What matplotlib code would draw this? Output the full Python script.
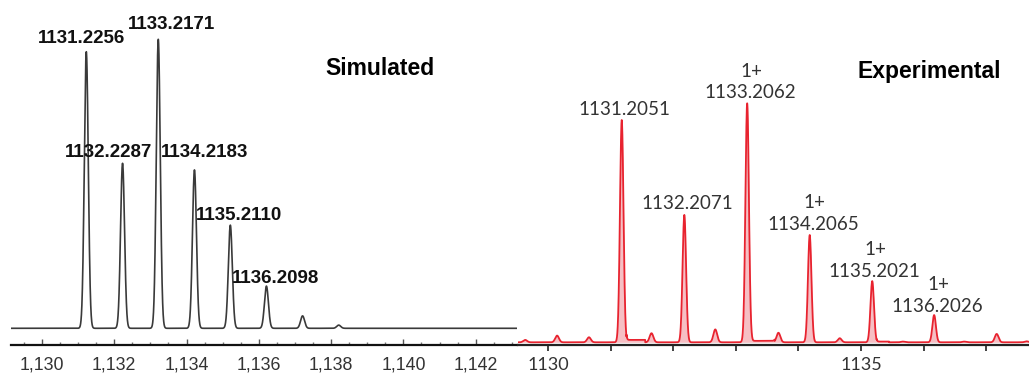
import numpy as np
import matplotlib
matplotlib.use("Agg")
import matplotlib.pyplot as plt
from matplotlib.ticker import MultipleLocator, FuncFormatter

# ---------------- data ----------------
# Simulated isotope pattern (left panel)
sim_mz = [1131.2256, 1132.2287, 1133.2171, 1134.2183, 1135.2110, 1136.2098, 1137.21, 1138.21]
sim_int = [95.7, 57.1, 100.0, 54.8, 35.7, 14.6, 4.3, 1.1]
sim_labels = ["1131.2256", "1132.2287", "1133.2171", "1134.2183", "1135.2110", "1136.2098"]
sim_label_x = [1131.08, 1131.85, 1133.57, 1134.51, 1135.45, 1136.45]
sim_label_y = [98.7, 59.4, 103.4, 59.4, 37.5, 15.7]

# Experimental spectrum (right panel)
exp_mz = [1131.174, 1132.175, 1133.18, 1134.18, 1135.18, 1136.17]
exp_int = [93.0, 53.3, 100.0, 44.9, 25.6, 11.4]
exp_minor_mz = [1129.63, 1130.14, 1130.65, 1131.65, 1132.67, 1133.68, 1134.66,
                1135.67, 1136.65, 1137.17, 1137.65]
exp_minor_int = [1.0, 2.8, 2.1, 3.8, 5.4, 4.0, 1.7, 0.3, 0.3, 3.5, 0.4]
exp_shelf_start = [1131.25, 1133.22, 1135.25]
exp_shelf_end = [1131.55, 1133.62, 1135.45]
exp_shelf_level = [1.0, 0.6, 0.3]
exp_labels = ["1131.2051", "1132.2071", "1133.2062", "1134.2065", "1135.2021", "1136.2026"]
exp_charge = ["", "", "1+", "1+", "1+", "1+"]
exp_label_x = [1131.222, 1132.226, 1133.23, 1134.238, 1135.209, 1136.216]
exp_label_y = [95.1, 55.6, 102.1, 47.0, 27.4, 12.8]

sim_xlim = (1129.142, 1143.135)
exp_xlim = (1129.515, 1137.687)

# ---------------- figure ----------------
W, H = 1029, 374
fig = plt.figure(figsize=(W / 100, H / 100), dpi=100)

def px_axes(left, right, top, bottom):
    return fig.add_axes([left / W, 1 - bottom / H, (right - left) / W, (bottom - top) / H])

# ---- left: simulated ----
axL = px_axes(11, 516.7, 0, 345)
x = np.linspace(sim_xlim[0], sim_xlim[1], 8000)
y = np.zeros_like(x)
for c, h in zip(sim_mz, sim_int):
    y += h * np.exp(-0.5 * ((x - c) / 0.055) ** 2)
axL.plot(x, y, color="#3a3a3a", lw=1.2)
axL.set_xlim(*sim_xlim)
axL.set_ylim(-16.7 / 2.89, 328.3 / 2.89)
for s in ["top", "left", "right"]:
    axL.spines[s].set_visible(False)
axL.spines["bottom"].set_linewidth(1.6)
axL.spines["bottom"].set_color("#111111")
axL.set_yticks([])
axL.xaxis.set_major_locator(MultipleLocator(2))
axL.xaxis.set_minor_locator(MultipleLocator(0.5))
axL.xaxis.set_major_formatter(FuncFormatter(lambda v, p: f"{int(round(v)):,}"))
axL.tick_params(axis="x", which="major", direction="in", length=4, width=1.0,
                colors="#555555", labelcolor="#333333", labelsize=12.8, pad=8)
axL.tick_params(axis="x", which="minor", direction="in", length=2.5, width=1.0, colors="#777777")
for lab in axL.get_xticklabels():
    lab.set_fontfamily("Liberation Sans")

for t, lx, ly in zip(sim_labels, sim_label_x, sim_label_y):
    axL.text(lx, ly, t, ha="center", va="baseline", fontsize=13.5, fontweight="bold",
             family="Liberation Sans", color="#111111")
axL.text(1139.35, 87.6, "Simulated", ha="center", va="baseline", fontsize=16.5,
         fontweight="bold", family="Liberation Sans", color="black")

# ---- right: experimental ----
axR = px_axes(518, 1029, 0, 345)
xe = np.linspace(exp_xlim[0], exp_xlim[1], 8000)
ye = np.zeros_like(xe)
for c, h in zip(exp_mz, exp_int):
    ye += h * np.exp(-0.5 * ((xe - c) / 0.028) ** 2)
for c, h in zip(exp_minor_mz, exp_minor_int):
    ye += h * np.exp(-0.5 * ((xe - c) / 0.03) ** 2)
for s0, s1, lv in zip(exp_shelf_start, exp_shelf_end, exp_shelf_level):
    ye += np.where((xe >= s0) & (xe <= s1), lv, 0.0)
axR.fill_between(xe, 0, ye, color="#f3aab0", alpha=0.75, lw=0)
axR.plot(xe, ye, color="#e8232f", lw=1.3)
axR.set_xlim(*exp_xlim)
axR.set_ylim(-2.7 / 2.39, 342.3 / 2.39)
for s in ["top", "left", "right"]:
    axR.spines[s].set_visible(False)
axR.spines["bottom"].set_linewidth(1.6)
axR.spines["bottom"].set_color("#222222")
axR.set_yticks([])
axR.set_xticks([1130, 1131, 1132, 1133, 1134, 1135, 1136, 1137])
axR.set_xticklabels(["1130", "", "", "", "", "1135", "", ""])
axR.tick_params(axis="x", direction="out", length=4.5, width=1.3, colors="#333333",
                labelcolor="#333333", labelsize=13, pad=4.5)
for lab in axR.get_xticklabels():
    lab.set_fontfamily("Lato")

for t, ch, lx, ly in zip(exp_labels, exp_charge, exp_label_x, exp_label_y):
    axR.text(lx, ly, t, ha="center", va="baseline", fontsize=13.5, family="Lato", color="#333333")
    if ch:
        axR.text(lx + 0.02, ly + 9.0, ch, ha="center", va="baseline", fontsize=13.5,
                 family="Lato", color="#333333")
axR.text(1136.088, 110.5, "Experimental", ha="center", va="baseline", fontsize=16.5,
         fontweight="bold", family="Liberation Sans", color="black")

fig.savefig("out.png", dpi=100)
